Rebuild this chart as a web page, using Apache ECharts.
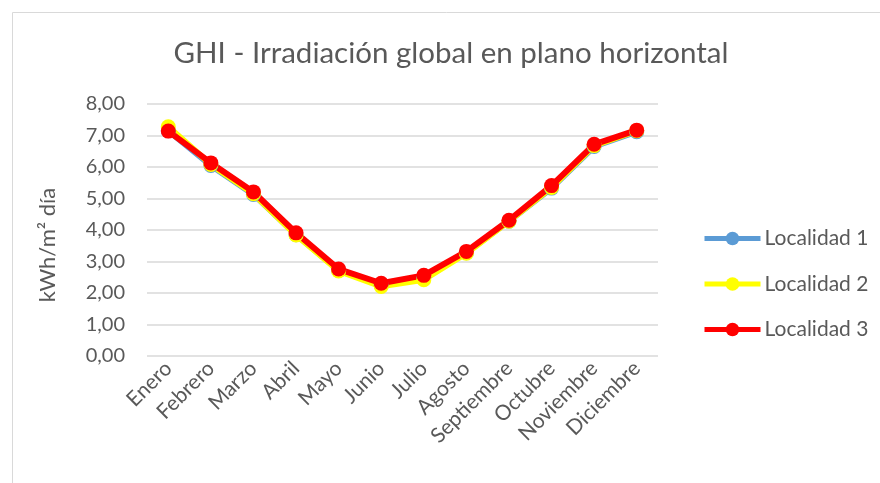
<!DOCTYPE html>
<html>
<head>
<meta charset="utf-8">
<style>
  html, body { margin: 0; padding: 0; background: #fff; }
  #chart { width: 880px; height: 483px; }
</style>
<script src="https://cdn.jsdelivr.net/npm/echarts@6/dist/echarts.min.js"></script>
</head>
<body>
<div id="chart"></div>
<script>
var meses = ["Enero", "Febrero", "Marzo", "Abril", "Mayo", "Junio", "Julio",
    "Agosto", "Septiembre", "Octubre", "Noviembre", "Diciembre"];
var localidad1 = [7.15, 6.05, 5.13, 3.85, 2.72, 2.25, 2.50, 3.28, 4.28, 5.33, 6.65, 7.12];
var localidad2 = [7.28, 6.08, 5.15, 3.84, 2.70, 2.21, 2.42, 3.26, 4.28, 5.35, 6.68, 7.15];
var localidad3 = [7.14, 6.13, 5.21, 3.91, 2.76, 2.31, 2.56, 3.32, 4.31, 5.41, 6.72, 7.17];

(function () {
    var myChart = echarts.init(document.getElementById("chart"));
    var fuente = "Lato, sans-serif";
    function linea(nombre, datos, color) {
        return {
            name: nombre,
            type: 'line',
            data: datos,
            symbol: 'circle',
            symbolSize: 15,
            lineStyle: { width: 6, color: color },
            itemStyle: { color: color },
            emphasis: { disabled: true }
        };
    }
    var option = {
        animation: false,
        graphic: [{
            type: 'rect',
            shape: { x: 12.5, y: 12.5, width: 880, height: 480 },
            style: { fill: 'none', stroke: '#d9d9d9', lineWidth: 1 }
        }, {
            // nombre del eje y
            type: 'text',
            x: 48,
            y: 245,
            rotation: Math.PI / 2,
            style: {
                text: 'kWh/m² día',
                fill: '#595959',
                font: '22px ' + fuente,
                align: 'center',
                verticalAlign: 'middle'
            }
        }],
        title: {
            text: 'GHI - Irradiación global en plano horizontal',
            left: 446,
            top: 33,
            textAlign: 'center',
            textStyle: {
                color: '#595959',
                fontFamily: fuente,
                fontWeight: 'normal',
                fontSize: 29.5
            }
        },
        legend: {
            orient: 'vertical',
            left: 697,
            top: 223,
            itemWidth: 56,
            itemHeight: 17,
            itemGap: 24.5,
            lineStyle: { width: 5 },
            textStyle: { color: '#595959', fontFamily: fuente, fontSize: 21, padding: [0, 0, 0, -1] },
            data: ['Localidad 1', 'Localidad 2', 'Localidad 3']
        },
        grid: {
            left: 147,
            right: 222,
            top: 104,
            bottom: 127,
            containLabel: false
        },
        xAxis: {
            type: 'category',
            data: meses,
            axisTick: { show: false },
            axisLine: { show: false },
            axisLabel: {
                color: '#595959',
                fontFamily: fuente,
                fontSize: 21,
                rotate: 45,
                interval: 0,
                margin: 9
            }
        },
        yAxis: {
            type: 'value',
            min: 0,
            max: 8,
            interval: 1,
            axisLine: { show: false },
            axisTick: { show: false },
            axisLabel: {
                color: '#595959',
                fontFamily: fuente,
                fontSize: 20,
                margin: 22,
                formatter: function (v) { return v.toFixed(2).replace('.', ','); }
            },
            splitLine: { lineStyle: { color: '#d9d9d9', width: 1.5 } }
        },
        series: [
            linea('Localidad 1', localidad1, '#5b9bd5'),
            linea('Localidad 2', localidad2, '#ffff00'),
            linea('Localidad 3', localidad3, '#ff0000')
        ]
    };
    myChart.setOption(option);
    window.addEventListener("resize", function () {
        myChart.resize();
    });
})();
</script>
</body>
</html>
